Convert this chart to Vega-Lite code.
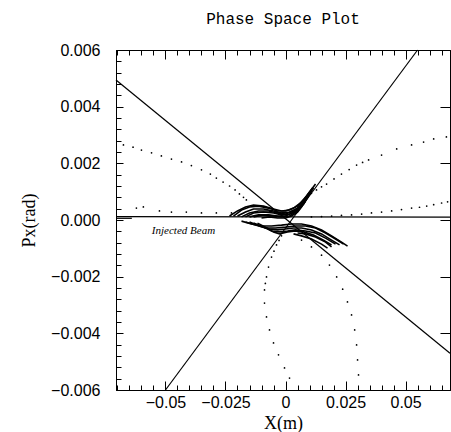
{
  "$schema": "https://vega.github.io/schema/vega-lite/v6.json",
  "autosize": {"type": "none"},
  "padding": {"left": 116, "top": 50, "right": 1, "bottom": 42},
  "width": 334,
  "height": 340,
  "title": {"text": "Phase Space Plot", "font": "Liberation Mono", "fontSize": 16, "fontWeight": "normal", "offset": 15, "anchor": "middle", "color": "black"},
  "datasets": {
    "lines": [
      {"s": "A", "o": 0, "x": -0.0706, "y": 0.00494}, {"s": "A", "o": 1, "x": 0.0685, "y": -0.0047},
      {"s": "B", "o": 0, "x": -0.05, "y": -0.006}, {"s": "B", "o": 1, "x": 0.055, "y": 0.006},
      {"s": "H", "o": 0, "x": -0.0706, "y": 0.00012}, {"s": "H", "o": 1, "x": 0.0685, "y": 0.0001},
      {"s": "H0", "o": 0, "x": -0.0706, "y": 0.00006}, {"s": "H0", "o": 1, "x": -0.064, "y": 0.00006}
    ],
    "arcs": [
      {"s": "U1", "o": 0, "x": -0.02333, "y": 0.00014}, {"s": "U1", "o": 1, "x": -0.02, "y": 0.00032}, {"s": "U1", "o": 2, "x": -0.01667, "y": 0.00046}, {"s": "U1", "o": 3, "x": -0.01333, "y": 0.00053}, {"s": "U1", "o": 4, "x": -0.00917, "y": 0.00049}, {"s": "U1", "o": 5, "x": -0.005, "y": 0.00039}, {"s": "U1", "o": 6, "x": -0.00167, "y": 0.00032}, {"s": "U1", "o": 7, "x": 0.00167, "y": 0.00035}, {"s": "U1", "o": 8, "x": 0.005, "y": 0.00049}, {"s": "U1", "o": 9, "x": 0.0075, "y": 0.00071}, {"s": "U1", "o": 10, "x": 0.01, "y": 0.00099}, {"s": "U1", "o": 11, "x": 0.0125, "y": 0.00127},
      {"s": "U1b", "o": 0, "x": -0.02167, "y": 0.00014}, {"s": "U1b", "o": 1, "x": -0.01833, "y": 0.00035}, {"s": "U1b", "o": 2, "x": -0.015, "y": 0.00046}, {"s": "U1b", "o": 3, "x": -0.01125, "y": 0.00049}, {"s": "U1b", "o": 4, "x": -0.00708, "y": 0.00042}, {"s": "U1b", "o": 5, "x": -0.00333, "y": 0.00032}, {"s": "U1b", "o": 6, "x": 0, "y": 0.00032}, {"s": "U1b", "o": 7, "x": 0.00333, "y": 0.00042}, {"s": "U1b", "o": 8, "x": 0.00625, "y": 0.0006}, {"s": "U1b", "o": 9, "x": 0.00875, "y": 0.00085}, {"s": "U1b", "o": 10, "x": 0.01125, "y": 0.00113},
      {"s": "U2", "o": 0, "x": -0.02, "y": 0.00014}, {"s": "U2", "o": 1, "x": -0.01667, "y": 0.00028}, {"s": "U2", "o": 2, "x": -0.01333, "y": 0.00039}, {"s": "U2", "o": 3, "x": -0.00917, "y": 0.00039}, {"s": "U2", "o": 4, "x": -0.005, "y": 0.00032}, {"s": "U2", "o": 5, "x": -0.00167, "y": 0.00025}, {"s": "U2", "o": 6, "x": 0.00167, "y": 0.00028}, {"s": "U2", "o": 7, "x": 0.005, "y": 0.00042}, {"s": "U2", "o": 8, "x": 0.0075, "y": 0.00064}, {"s": "U2", "o": 9, "x": 0.01, "y": 0.00092}, {"s": "U2", "o": 10, "x": 0.01167, "y": 0.00113},
      {"s": "U2b", "o": 0, "x": -0.01833, "y": 0.00011}, {"s": "U2b", "o": 1, "x": -0.015, "y": 0.00025}, {"s": "U2b", "o": 2, "x": -0.01125, "y": 0.00032}, {"s": "U2b", "o": 3, "x": -0.00708, "y": 0.00032}, {"s": "U2b", "o": 4, "x": -0.00333, "y": 0.00025}, {"s": "U2b", "o": 5, "x": 0, "y": 0.00021}, {"s": "U2b", "o": 6, "x": 0.00333, "y": 0.00032}, {"s": "U2b", "o": 7, "x": 0.00625, "y": 0.00049}, {"s": "U2b", "o": 8, "x": 0.00833, "y": 0.00074}, {"s": "U2b", "o": 9, "x": 0.01042, "y": 0.00099},
      {"s": "U3", "o": 0, "x": -0.01667, "y": 0.00011}, {"s": "U3", "o": 1, "x": -0.01333, "y": 0.00025}, {"s": "U3", "o": 2, "x": -0.00917, "y": 0.00028}, {"s": "U3", "o": 3, "x": -0.005, "y": 0.00025}, {"s": "U3", "o": 4, "x": -0.00167, "y": 0.00018}, {"s": "U3", "o": 5, "x": 0.00167, "y": 0.00021}, {"s": "U3", "o": 6, "x": 0.005, "y": 0.00035}, {"s": "U3", "o": 7, "x": 0.0075, "y": 0.00056}, {"s": "U3", "o": 8, "x": 0.00917, "y": 0.00078}, {"s": "U3", "o": 9, "x": 0.01083, "y": 0.00102},
      {"s": "U3b", "o": 0, "x": -0.015, "y": 0.00011}, {"s": "U3b", "o": 1, "x": -0.01125, "y": 0.00018}, {"s": "U3b", "o": 2, "x": -0.00708, "y": 0.00018}, {"s": "U3b", "o": 3, "x": -0.00333, "y": 0.00014}, {"s": "U3b", "o": 4, "x": 0, "y": 0.00014}, {"s": "U3b", "o": 5, "x": 0.00292, "y": 0.00025}, {"s": "U3b", "o": 6, "x": 0.00583, "y": 0.00042}, {"s": "U3b", "o": 7, "x": 0.00792, "y": 0.00064}, {"s": "U3b", "o": 8, "x": 0.00958, "y": 0.00085},
      {"s": "U4", "o": 0, "x": -0.01333, "y": 0.00011}, {"s": "U4", "o": 1, "x": -0.00917, "y": 0.00018}, {"s": "U4", "o": 2, "x": -0.005, "y": 0.00014}, {"s": "U4", "o": 3, "x": -0.00167, "y": 0.00011}, {"s": "U4", "o": 4, "x": 0.00167, "y": 0.00014}, {"s": "U4", "o": 5, "x": 0.00417, "y": 0.00028}, {"s": "U4", "o": 6, "x": 0.00667, "y": 0.00049}, {"s": "U4", "o": 7, "x": 0.00833, "y": 0.00071}, {"s": "U4", "o": 8, "x": 0.01, "y": 0.00092},
      {"s": "U5", "o": 0, "x": -0.01, "y": 0.00007}, {"s": "U5", "o": 1, "x": -0.00667, "y": 0.00011}, {"s": "U5", "o": 2, "x": -0.00333, "y": 0.00007}, {"s": "U5", "o": 3, "x": 0, "y": 0.00007}, {"s": "U5", "o": 4, "x": 0.0025, "y": 0.00014}, {"s": "U5", "o": 5, "x": 0.005, "y": 0.00028}, {"s": "U5", "o": 6, "x": 0.00667, "y": 0.00046}, {"s": "U5", "o": 7, "x": 0.00833, "y": 0.00067},
      {"s": "L1", "o": 0, "x": -0.01833, "y": -0.00004}, {"s": "L1", "o": 1, "x": -0.01417, "y": -0.00014}, {"s": "L1", "o": 2, "x": -0.01, "y": -0.00021}, {"s": "L1", "o": 3, "x": -0.00583, "y": -0.00021}, {"s": "L1", "o": 4, "x": -0.00167, "y": -0.00018}, {"s": "L1", "o": 5, "x": 0.0025, "y": -0.00014}, {"s": "L1", "o": 6, "x": 0.00667, "y": -0.00014}, {"s": "L1", "o": 7, "x": 0.01083, "y": -0.00021}, {"s": "L1", "o": 8, "x": 0.015, "y": -0.00035}, {"s": "L1", "o": 9, "x": 0.01917, "y": -0.00056}, {"s": "L1", "o": 10, "x": 0.02333, "y": -0.00078}, {"s": "L1", "o": 11, "x": 0.02583, "y": -0.00092},
      {"s": "L1b", "o": 0, "x": -0.01667, "y": -0.00007}, {"s": "L1b", "o": 1, "x": -0.0125, "y": -0.00018}, {"s": "L1b", "o": 2, "x": -0.00833, "y": -0.00028}, {"s": "L1b", "o": 3, "x": -0.00417, "y": -0.00028}, {"s": "L1b", "o": 4, "x": 0, "y": -0.00025}, {"s": "L1b", "o": 5, "x": 0.00417, "y": -0.00021}, {"s": "L1b", "o": 6, "x": 0.00833, "y": -0.00021}, {"s": "L1b", "o": 7, "x": 0.0125, "y": -0.00028}, {"s": "L1b", "o": 8, "x": 0.01667, "y": -0.00046}, {"s": "L1b", "o": 9, "x": 0.02083, "y": -0.00067}, {"s": "L1b", "o": 10, "x": 0.02417, "y": -0.00085},
      {"s": "L2", "o": 0, "x": -0.015, "y": -0.00007}, {"s": "L2", "o": 1, "x": -0.01083, "y": -0.00021}, {"s": "L2", "o": 2, "x": -0.00667, "y": -0.00032}, {"s": "L2", "o": 3, "x": -0.00333, "y": -0.00035}, {"s": "L2", "o": 4, "x": 0, "y": -0.00032}, {"s": "L2", "o": 5, "x": 0.00333, "y": -0.00028}, {"s": "L2", "o": 6, "x": 0.00667, "y": -0.00028}, {"s": "L2", "o": 7, "x": 0.01083, "y": -0.00035}, {"s": "L2", "o": 8, "x": 0.015, "y": -0.00049}, {"s": "L2", "o": 9, "x": 0.01917, "y": -0.00071}, {"s": "L2", "o": 10, "x": 0.0225, "y": -0.00088},
      {"s": "L2b", "o": 0, "x": -0.01333, "y": -0.00011}, {"s": "L2b", "o": 1, "x": -0.00917, "y": -0.00025}, {"s": "L2b", "o": 2, "x": -0.00583, "y": -0.00039}, {"s": "L2b", "o": 3, "x": -0.0025, "y": -0.00042}, {"s": "L2b", "o": 4, "x": 0.00083, "y": -0.00039}, {"s": "L2b", "o": 5, "x": 0.00417, "y": -0.00035}, {"s": "L2b", "o": 6, "x": 0.00833, "y": -0.00039}, {"s": "L2b", "o": 7, "x": 0.0125, "y": -0.00046}, {"s": "L2b", "o": 8, "x": 0.01667, "y": -0.00064}, {"s": "L2b", "o": 9, "x": 0.02083, "y": -0.00085},
      {"s": "L3", "o": 0, "x": -0.01167, "y": -0.00011}, {"s": "L3", "o": 1, "x": -0.00833, "y": -0.00025}, {"s": "L3", "o": 2, "x": -0.005, "y": -0.00042}, {"s": "L3", "o": 3, "x": -0.0025, "y": -0.00049}, {"s": "L3", "o": 4, "x": 0.00083, "y": -0.00042}, {"s": "L3", "o": 5, "x": 0.00417, "y": -0.00039}, {"s": "L3", "o": 6, "x": 0.0075, "y": -0.00042}, {"s": "L3", "o": 7, "x": 0.01167, "y": -0.00053}, {"s": "L3", "o": 8, "x": 0.01583, "y": -0.00071}, {"s": "L3", "o": 9, "x": 0.01917, "y": -0.00088},
      {"s": "L3b", "o": 0, "x": 0.005, "y": -0.00046}, {"s": "L3b", "o": 1, "x": 0.00833, "y": -0.00049}, {"s": "L3b", "o": 2, "x": 0.0125, "y": -0.0006}, {"s": "L3b", "o": 3, "x": 0.01667, "y": -0.00078}, {"s": "L3b", "o": 4, "x": 0.01917, "y": -0.00095},
      {"s": "L4", "o": 0, "x": 0.00333, "y": -0.00049}, {"s": "L4", "o": 1, "x": 0.00667, "y": -0.00056}, {"s": "L4", "o": 2, "x": 0.01083, "y": -0.00067}, {"s": "L4", "o": 3, "x": 0.015, "y": -0.00085}, {"s": "L4", "o": 4, "x": 0.0175, "y": -0.00099}
    ],
    "dots": [
      {"x": -0.0675, "y": 0.00265}, {"x": -0.0635, "y": 0.00257}, {"x": -0.06, "y": 0.00247}, {"x": -0.0558, "y": 0.00237}, {"x": -0.0517, "y": 0.00226}, {"x": -0.0475, "y": 0.00215}, {"x": -0.0433, "y": 0.00205}, {"x": -0.0392, "y": 0.00192}, {"x": -0.035, "y": 0.00177}, {"x": -0.0313, "y": 0.00162}, {"x": -0.0288, "y": 0.00148}, {"x": -0.026, "y": 0.00134}, {"x": -0.0233, "y": 0.0012}, {"x": -0.021, "y": 0.00106}, {"x": -0.0192, "y": 0.00092}, {"x": -0.0175, "y": 0.0008}, {"x": -0.0163, "y": 0.00071},
      {"x": 0.00875, "y": 0.00081}, {"x": 0.0108, "y": 0.00094}, {"x": 0.0129, "y": 0.00106}, {"x": 0.015, "y": 0.00117}, {"x": 0.0171, "y": 0.00127}, {"x": 0.0202, "y": 0.00145}, {"x": 0.0233, "y": 0.00162}, {"x": 0.0265, "y": 0.00178}, {"x": 0.0296, "y": 0.00194}, {"x": 0.0321, "y": 0.00203}, {"x": 0.0346, "y": 0.00212}, {"x": 0.04, "y": 0.00229}, {"x": 0.0463, "y": 0.00251}, {"x": 0.0525, "y": 0.00265}, {"x": 0.0575, "y": 0.00275}, {"x": 0.0617, "y": 0.00286}, {"x": 0.067, "y": 0.00293},
      {"x": 0.0108, "y": 0.00011}, {"x": 0.015, "y": 0.00012}, {"x": 0.0192, "y": 0.00014}, {"x": 0.0233, "y": 0.00016}, {"x": 0.0275, "y": 0.00018}, {"x": 0.0317, "y": 0.00021}, {"x": 0.0358, "y": 0.00025}, {"x": 0.04, "y": 0.00028}, {"x": 0.0442, "y": 0.00032}, {"x": 0.0483, "y": 0.00037}, {"x": 0.0525, "y": 0.00042}, {"x": 0.0558, "y": 0.00045}, {"x": 0.0588, "y": 0.00049}, {"x": 0.0617, "y": 0.00054}, {"x": 0.065, "y": 0.0006}, {"x": 0.0675, "y": 0.00064},
      {"x": -0.0621, "y": 0.00042}, {"x": -0.0592, "y": 0.00046}, {"x": -0.0525, "y": 0.00032}, {"x": -0.0475, "y": 0.00028}, {"x": -0.0413, "y": 0.00028}, {"x": -0.035, "y": 0.00025}, {"x": -0.0288, "y": 0.00025}, {"x": -0.0225, "y": 0.00025},
      {"x": -0.00167, "y": -0.00056}, {"x": -0.0027, "y": -0.00072}, {"x": -0.00375, "y": -0.00088}, {"x": -0.0048, "y": -0.0011}, {"x": -0.00583, "y": -0.00131}, {"x": -0.00708, "y": -0.00166}, {"x": -0.00792, "y": -0.00201}, {"x": -0.0084, "y": -0.00224}, {"x": -0.00875, "y": -0.00247}, {"x": -0.00875, "y": -0.00293}, {"x": -0.00792, "y": -0.00342}, {"x": -0.00667, "y": -0.00388}, {"x": -0.005, "y": -0.00434}, {"x": -0.00292, "y": -0.00476}, {"x": -0.00042, "y": -0.00522}, {"x": 0.00167, "y": -0.00558},
      {"x": 0.00667, "y": -0.00071}, {"x": 0.0108, "y": -0.00095}, {"x": 0.015, "y": -0.00124}, {"x": 0.0183, "y": -0.00159}, {"x": 0.0213, "y": -0.00201}, {"x": 0.0238, "y": -0.00244}, {"x": 0.0258, "y": -0.00289}, {"x": 0.0275, "y": -0.00335}, {"x": 0.0288, "y": -0.00388}, {"x": 0.0296, "y": -0.00441}, {"x": 0.03, "y": -0.00494}, {"x": 0.0304, "y": -0.00547}
    ],
    "notes": [{"x": -0.0425, "y": -0.00039, "t": "Injected Beam"}]
  },
  "layer": [
    {
      "data": {"name": "lines"},
      "mark": {"type": "line", "color": "black", "strokeWidth": 1.2},
      "encoding": {
        "x": {"field": "x", "type": "quantitative", "scale": {"domain": [-0.0706, 0.0685], "nice": false, "zero": false},
          "axis": {"orient": "bottom", "title": "X(m)",
            "values": [-0.07,-0.065,-0.06,-0.055,-0.05,-0.045,-0.04,-0.035,-0.03,-0.025,-0.02,-0.015,-0.01,-0.005,0,0.005,0.01,0.015,0.02,0.025,0.03,0.035,0.04,0.045,0.05,0.055,0.06,0.065],
            "tickSize": {"condition": {"test": "abs(datum.value/0.025 - round(datum.value/0.025)) < 0.001", "value": -9}, "value": -5},
            "labelExpr": "abs(datum.value/0.025 - round(datum.value/0.025)) < 0.001 ? format(datum.value, '.3~f') : ''",
            "labelPadding": 13, "titlePadding": 0}},
        "y": {"field": "y", "type": "quantitative", "scale": {"domain": [-0.006, 0.006], "nice": false, "zero": false},
          "axis": {"orient": "left", "title": "Px(rad)",
            "values": [-0.006,-0.0056,-0.0052,-0.0048,-0.0044,-0.004,-0.0036,-0.0032,-0.0028,-0.0024,-0.002,-0.0016,-0.0012,-0.0008,-0.0004,0,0.0004,0.0008,0.0012,0.0016,0.002,0.0024,0.0028,0.0032,0.0036,0.004,0.0044,0.0048,0.0052,0.0056,0.006],
            "tickSize": {"condition": {"test": "abs(datum.value/0.002 - round(datum.value/0.002)) < 0.001", "value": -7}, "value": -5},
            "labelExpr": "abs(datum.value/0.002 - round(datum.value/0.002)) < 0.001 ? format(datum.value, '.3f') : ''",
            "labelPadding": 23, "titlePadding": 12}},
        "detail": {"field": "s"},
        "order": {"field": "o", "type": "quantitative"}
      }
    },
    {
      "data": {"name": "arcs"},
      "mark": {"type": "line", "color": "black", "strokeWidth": 1.6},
      "encoding": {
        "x": {"field": "x", "type": "quantitative", "axis": null},
        "y": {"field": "y", "type": "quantitative", "axis": null},
        "detail": {"field": "s"},
        "order": {"field": "o", "type": "quantitative"}
      }
    },
    {
      "data": {"name": "dots"},
      "mark": {"type": "point", "filled": true, "color": "black", "size": 3, "opacity": 1},
      "encoding": {
        "x": {"field": "x", "type": "quantitative", "scale": {"domain": [-0.0706, 0.0685], "nice": false, "zero": false},
          "axis": {"orient": "top", "title": null, "labels": false,
            "values": [-0.07,-0.065,-0.06,-0.055,-0.05,-0.045,-0.04,-0.035,-0.03,-0.025,-0.02,-0.015,-0.01,-0.005,0,0.005,0.01,0.015,0.02,0.025,0.03,0.035,0.04,0.045,0.05,0.055,0.06,0.065],
            "tickSize": {"condition": {"test": "abs(datum.value/0.025 - round(datum.value/0.025)) < 0.001", "value": -9}, "value": -5}}},
        "y": {"field": "y", "type": "quantitative", "scale": {"domain": [-0.006, 0.006], "nice": false, "zero": false},
          "axis": {"orient": "right", "title": null, "labels": false,
            "values": [-0.006,-0.004,-0.002,0,0.002,0.004,0.006], "tickSize": -10}}
      }
    },
    {
      "data": {"name": "notes"},
      "mark": {"type": "text", "font": "Liberation Serif", "fontStyle": "italic", "fontSize": 11, "color": "black", "align": "center", "baseline": "middle"},
      "encoding": {
        "x": {"field": "x", "type": "quantitative", "axis": null},
        "y": {"field": "y", "type": "quantitative", "axis": null},
        "text": {"field": "t"}
      }
    }
  ],
  "resolve": {"axis": {"x": "independent", "y": "independent"}},
  "config": {
    "view": {"stroke": "black", "strokeWidth": 1},
    "axis": {"grid": false, "domainColor": "black", "domainWidth": 1, "tickColor": "black", "tickWidth": 1,
      "labelColor": "black", "labelFont": "Liberation Sans", "labelFontSize": 16, "labelOverlap": false, "labelFlush": false,
      "titleColor": "black", "titleFont": "Liberation Serif", "titleFontSize": 18, "titleFontWeight": "normal"}
  }
}
